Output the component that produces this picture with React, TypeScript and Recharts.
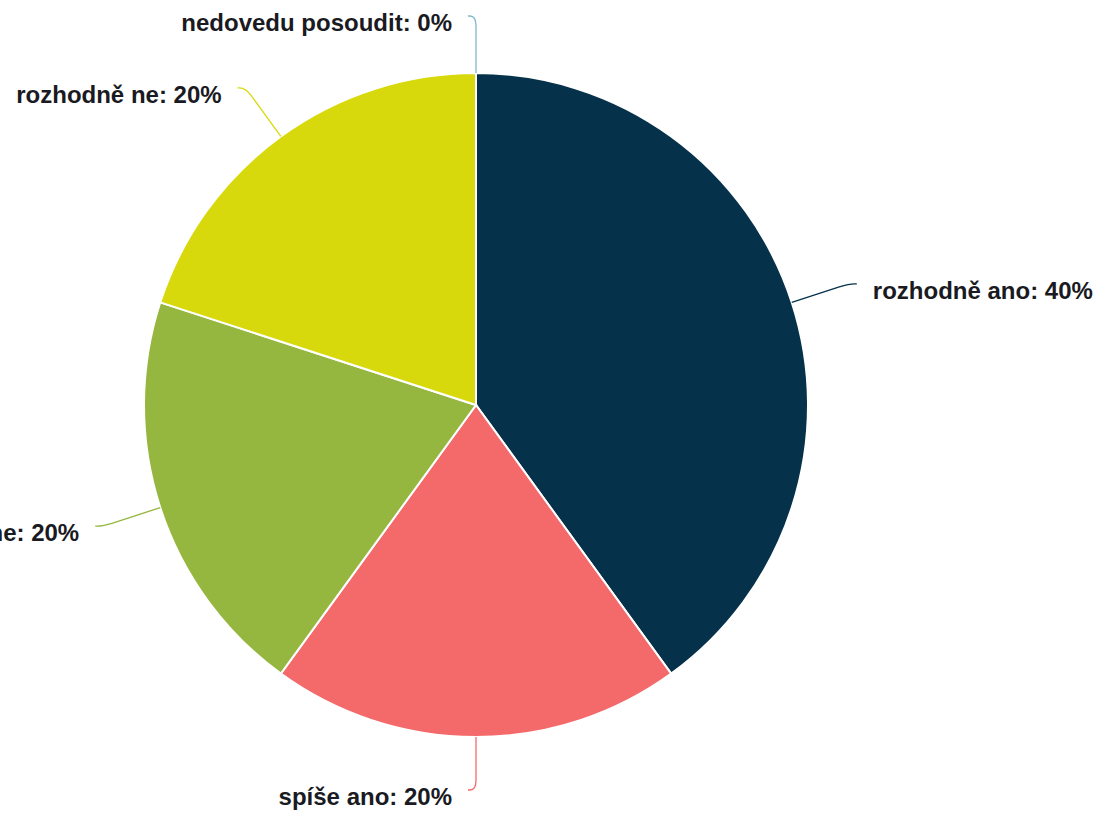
import { Cell, Pie, PieChart } from "recharts";

const CATEGORIES = ["rozhodně ano", "spíše ano", "spíše ne", "rozhodně ne", "nedovedu posoudit"];
const SHARES = [40, 20, 20, 20, 0];
const COLORS = ["#05314a", "#f46a6b", "#95b73f", "#d8d90d", "#7fb8c6"];

const data = CATEGORIES.map((name, i) => ({ name, value: SHARES[i] }));

const CX = 476;
const CY = 405;
const RADIUS = 332;
const RADIAN = Math.PI / 180;

/** Highcharts-style label: straight leg out of the slice, short crook, then text. */
function SliceLabel(props: any) {
  const { cx, cy, midAngle, outerRadius, index, name, value } = props;
  const cos = Math.cos(-midAngle * RADIAN);
  const sin = Math.sin(-midAngle * RADIAN);
  const side = cos > 0.01 ? 1 : -1;
  const r2 = outerRadius + 60;

  const ex = cx + outerRadius * cos;
  const ey = cy + outerRadius * sin;
  const crookX = cx + r2 * cos;
  const ay = Math.min(Math.max(cy + r2 * sin, 16), 790);
  const ax = crookX + side * 8;

  // rounded corner at the crook
  const toward = (x: number, y: number, d: number) => {
    const dx = x - crookX;
    const dy = y - ay;
    const len = Math.hypot(dx, dy) || 1;
    return [crookX + (dx / len) * Math.min(d, len), ay + (dy / len) * Math.min(d, len)];
  };
  const [p1x, p1y] = toward(ax, ay, 6);
  const [p2x, p2y] = toward(ex, ey, 10);
  const color = COLORS[index];

  return (
    <g>
      <path
        d={`M${ax},${ay} L${p1x},${p1y} Q${crookX},${ay} ${p2x},${p2y} L${ex},${ey}`}
        fill="none"
        stroke={color}
        strokeWidth={1.3}
      />
      <text
        x={ax + side * 16}
        y={ay + 15}
        textAnchor={side > 0 ? "start" : "end"}
        fontFamily="'Liberation Sans', Arial, sans-serif"
        fontWeight="bold"
        fontSize={24}
        fill="#1a1a22"
      >
        {`${name}: ${value}%`}
      </text>
    </g>
  );
}

export default function App() {
  return (
    <div style={{ position: "absolute", left: 0, top: 0, width: 1105, height: 815, background: "#fff" }}>
      <PieChart width={1105} height={815} margin={{ top: 0, right: 0, bottom: 0, left: 0 }}>
        <Pie
          data={data}
          dataKey="value"
          nameKey="name"
          cx={CX}
          cy={CY}
          outerRadius={RADIUS}
          startAngle={90}
          endAngle={-270}
          stroke="#ffffff"
          strokeWidth={2}
          labelLine={false}
          label={SliceLabel}
          isAnimationActive={false}
        >
          {data.map((d, i) => (
            <Cell key={d.name} fill={COLORS[i]} />
          ))}
        </Pie>
      </PieChart>
    </div>
  );
}
